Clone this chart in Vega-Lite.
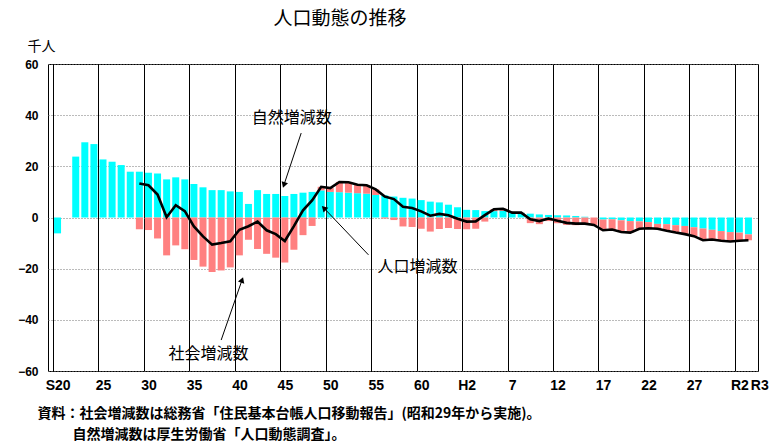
{
  "$schema": "https://vega.github.io/schema/vega-lite/v6.json",
  "width": 710,
  "height": 307,
  "autosize": {"type": "none"},
  "padding": {"left": 48, "top": 64, "right": 23, "bottom": 74},
  "background": "white",
  "config": {
    "view": {"stroke": "#000000", "strokeWidth": 1},
    "font": "Noto Sans CJK JP"
  },
  "title": {
    "text": "人口動態の推移",
    "anchor": "middle",
    "dx": -63,
    "offset": 10,
    "fontSize": 19,
    "fontWeight": "normal",
    "font": "Noto Sans CJK JP",
    "color": "#000000"
  },
  "datasets": {
    "pop": [
      {"year": 1945, "natural": -6.2, "social": null, "total": null},
      {"year": 1946, "natural": null, "social": null, "total": null},
      {"year": 1947, "natural": 23.8, "social": null, "total": null},
      {"year": 1948, "natural": 29.4, "social": null, "total": null},
      {"year": 1949, "natural": 28.7, "social": null, "total": null},
      {"year": 1950, "natural": 22.7, "social": null, "total": null},
      {"year": 1951, "natural": 21.8, "social": null, "total": null},
      {"year": 1952, "natural": 20.5, "social": null, "total": null},
      {"year": 1953, "natural": 17.9, "social": null, "total": null},
      {"year": 1954, "natural": 17.9, "social": -4.6, "total": 13.3},
      {"year": 1955, "natural": 17.5, "social": -4.9, "total": 12.6},
      {"year": 1956, "natural": 17.2, "social": -8.2, "total": 9.0},
      {"year": 1957, "natural": 14.9, "social": -14.8, "total": 0.1},
      {"year": 1958, "natural": 15.7, "social": -10.9, "total": 4.8},
      {"year": 1959, "natural": 14.9, "social": -12.4, "total": 2.5},
      {"year": 1960, "natural": 13.1, "social": -16.6, "total": -3.5},
      {"year": 1961, "natural": 11.8, "social": -19.2, "total": -7.4},
      {"year": 1962, "natural": 10.7, "social": -21.3, "total": -10.6},
      {"year": 1963, "natural": 10.7, "social": -20.7, "total": -10.0},
      {"year": 1964, "natural": 10.2, "social": -19.5, "total": -9.3},
      {"year": 1965, "natural": 10.0, "social": -14.8, "total": -4.8},
      {"year": 1966, "natural": 5.3, "social": -8.7, "total": -3.4},
      {"year": 1967, "natural": 10.7, "social": -12.3, "total": -1.6},
      {"year": 1968, "natural": 9.2, "social": -14.2, "total": -5.0},
      {"year": 1969, "natural": 9.2, "social": -15.7, "total": -6.5},
      {"year": 1970, "natural": 8.4, "social": -17.6, "total": -9.2},
      {"year": 1971, "natural": 9.2, "social": -12.6, "total": -3.4},
      {"year": 1972, "natural": 9.7, "social": -6.9, "total": 2.8},
      {"year": 1973, "natural": 10.0, "social": -3.3, "total": 6.7},
      {"year": 1974, "natural": 10.6, "social": 1.4, "total": 12.0},
      {"year": 1975, "natural": 10.0, "social": 1.5, "total": 11.5},
      {"year": 1976, "natural": 9.9, "social": 4.0, "total": 13.9},
      {"year": 1977, "natural": 9.7, "social": 4.1, "total": 13.8},
      {"year": 1978, "natural": 9.5, "social": 3.3, "total": 12.8},
      {"year": 1979, "natural": 9.3, "social": 3.3, "total": 12.6},
      {"year": 1980, "natural": 8.8, "social": 2.2, "total": 11.0},
      {"year": 1981, "natural": 8.6, "social": -0.4, "total": 8.2},
      {"year": 1982, "natural": 8.2, "social": -1.0, "total": 7.2},
      {"year": 1983, "natural": 7.7, "social": -3.5, "total": 4.2},
      {"year": 1984, "natural": 7.4, "social": -3.7, "total": 3.7},
      {"year": 1985, "natural": 6.8, "social": -4.4, "total": 2.4},
      {"year": 1986, "natural": 6.2, "social": -5.5, "total": 0.7},
      {"year": 1987, "natural": 5.9, "social": -4.5, "total": 1.4},
      {"year": 1988, "natural": 5.0, "social": -4.1, "total": 0.9},
      {"year": 1989, "natural": 4.0, "social": -4.5, "total": -0.5},
      {"year": 1990, "natural": 3.0, "social": -4.6, "total": -1.6},
      {"year": 1991, "natural": 2.9, "social": -4.4, "total": -1.5},
      {"year": 1992, "natural": 2.5, "social": -1.6, "total": 0.9},
      {"year": 1993, "natural": 2.5, "social": 0.7, "total": 3.2},
      {"year": 1994, "natural": 2.6, "social": 0.8, "total": 3.4},
      {"year": 1995, "natural": 1.9, "social": 0.0, "total": 1.9},
      {"year": 1996, "natural": 1.8, "social": 0.1, "total": 1.9},
      {"year": 1997, "natural": 1.5, "social": -2.2, "total": -0.7},
      {"year": 1998, "natural": 1.2, "social": -2.6, "total": -1.4},
      {"year": 1999, "natural": 1.0, "social": -1.4, "total": -0.4},
      {"year": 2000, "natural": 0.9, "social": -2.2, "total": -1.3},
      {"year": 2001, "natural": 0.8, "social": -2.9, "total": -2.1},
      {"year": 2002, "natural": 0.6, "social": -3.0, "total": -2.4},
      {"year": 2003, "natural": 0.3, "social": -2.7, "total": -2.4},
      {"year": 2004, "natural": 0.0, "social": -2.9, "total": -2.9},
      {"year": 2005, "natural": -0.8, "social": -4.2, "total": -5.0},
      {"year": 2006, "natural": -0.7, "social": -4.0, "total": -4.7},
      {"year": 2007, "natural": -1.1, "social": -4.6, "total": -5.7},
      {"year": 2008, "natural": -1.4, "social": -4.5, "total": -5.9},
      {"year": 2009, "natural": -1.5, "social": -2.9, "total": -4.4},
      {"year": 2010, "natural": -1.8, "social": -2.4, "total": -4.2},
      {"year": 2011, "natural": -2.5, "social": -1.9, "total": -4.4},
      {"year": 2012, "natural": -2.6, "social": -2.6, "total": -5.2},
      {"year": 2013, "natural": -3.0, "social": -2.9, "total": -5.9},
      {"year": 2014, "natural": -3.3, "social": -3.2, "total": -6.5},
      {"year": 2015, "natural": -3.8, "social": -3.5, "total": -7.3},
      {"year": 2016, "natural": -4.3, "social": -4.6, "total": -8.9},
      {"year": 2017, "natural": -4.8, "social": -3.8, "total": -8.6},
      {"year": 2018, "natural": -5.3, "social": -3.8, "total": -9.1},
      {"year": 2019, "natural": -5.7, "social": -3.7, "total": -9.4},
      {"year": 2020, "natural": -5.9, "social": -3.2, "total": -9.1},
      {"year": 2021, "natural": -6.6, "social": -2.3, "total": -8.9}
    ],
    "notes": [
      {"label": "自然増減数", "tyear": 1970.75, "tval": 39, "ayear": 1971.8, "aval": 33.0, "byear": 1969.9, "bval": 12.7},
      {"label": "人口増減数", "tyear": 1984.6, "tval": -19.5, "ayear": 1979.2, "aval": -14.6, "byear": 1974.3, "bval": 3.7},
      {"label": "社会増減数", "tyear": 1961.6, "tval": -53.3, "ayear": 1963.0, "aval": -47.9, "byear": 1965.3, "bval": -24.4}
    ]
  },
  "layer": [
    {
      "data": {"name": "pop"},
      "transform": [
        {"fold": ["natural", "social"], "as": ["k", "v"]},
        {"filter": "datum.v != null"}
      ],
      "mark": {"type": "bar", "orient": "vertical", "size": 7},
      "encoding": {
        "x": {
          "field": "year",
          "type": "quantitative",
          "scale": {"domain": [1944.5, 2021.5], "nice": false, "zero": false},
          "axis": {
            "values": [1944.5, 1949.5, 1954.5, 1959.5, 1964.5, 1969.5, 1974.5, 1979.5, 1984.5, 1989.5, 1994.5, 1999.5, 2004.5, 2009.5, 2014.5, 2019.5, 2020.7],
            "labelExpr": "datum.value < 1945 ? 'S20' : datum.value < 1989 ? '' + (datum.value + 0.5 - 1925) : datum.value < 1990 ? 'H2' : datum.value < 2019 ? '' + (datum.value + 0.5 - 1988) : datum.value < 2020 ? 'R2' : 'R3'",
            "labelOffset": 4.6,
            "labelAlign": {"condition": {"test": "datum.value > 2020", "value": "left"}, "value": "center"},
            "labelFont": "Liberation Sans Narrow, Liberation Sans",
            "labelFontSize": 14,
            "labelFontWeight": "bold",
            "labelColor": "#000000",
            "labelPadding": 7,
            "labelOverlap": false,
            "labelFlush": false,
            "labelBound": false,
            "ticks": false,
            "domain": false,
            "grid": true,
            "gridColor": "#000000",
            "gridWidth": 1,
            "gridOpacity": {"condition": {"test": "datum.value > 2020", "value": 0}, "value": 1},
            "title": ["資料：社会増減数は総務省「住民基本台帳人口移動報告」(昭和29年から実施)。", "\u200b\u3000\u3000\u2002自然増減数は厚生労働省「人口動態調査」。"],
            "titleFont": "Noto Sans CJK JP",
            "titleFontSize": 14,
            "titleFontWeight": "bold",
            "titleColor": "#000000",
            "titleAlign": "left",
            "titleAnchor": "start",
            "titleBaseline": "middle",
            "titleLineHeight": 21,
            "titleX": -11,
            "titleY": 42
          }
        },
        "y": {
          "field": "v",
          "type": "quantitative",
          "stack": "zero",
          "scale": {"domain": [-60, 60], "nice": false},
          "axis": {
            "values": [-60, -40, -20, 0, 20, 40, 60],
            "labelFont": "Liberation Sans Narrow, Liberation Sans",
            "labelFontSize": 12,
            "labelFontWeight": "bold",
            "labelColor": "#000000",
            "labelPadding": 10,
            "ticks": false,
            "domain": false,
            "grid": true,
            "gridColor": "#777777",
            "gridDash": [1, 2],
            "gridWidth": 1,
            "title": "千人",
            "titleAngle": 0,
            "titleFont": "Noto Sans CJK JP",
            "titleFontSize": 14,
            "titleFontWeight": "normal",
            "titleColor": "#000000",
            "titleAlign": "center",
            "titleBaseline": "middle",
            "titleX": -7,
            "titleY": -18
          }
        },
        "color": {
          "field": "k",
          "type": "nominal",
          "scale": {"domain": ["natural", "social"], "range": ["#00FFFF", "#FF8080"]},
          "legend": null
        },
        "order": {"field": "k", "sort": "ascending"}
      }
    },
    {
      "mark": {"type": "rule", "color": "#000000", "strokeWidth": 1.3},
      "encoding": {
        "y": {"datum": 0, "type": "quantitative"}
      }
    },
    {
      "data": {"name": "pop"},
      "mark": {"type": "line", "color": "#000000", "strokeWidth": 2.6},
      "encoding": {
        "x": {"field": "year", "type": "quantitative"},
        "y": {"field": "total", "type": "quantitative"}
      }
    },
    {
      "data": {"name": "notes"},
      "mark": {"type": "rule", "color": "#000000", "strokeWidth": 1},
      "encoding": {
        "x": {"field": "ayear", "type": "quantitative"},
        "y": {"field": "aval", "type": "quantitative"},
        "x2": {"field": "byear"},
        "y2": {"field": "bval"}
      }
    },
    {
      "data": {"name": "notes"},
      "transform": [{"filter": "datum.label == '自然増減数'"}],
      "mark": {"type": "point", "shape": "triangle-up", "filled": true, "color": "#000000", "opacity": 1, "size": 45, "angle": 199},
      "encoding": {
        "x": {"field": "byear", "type": "quantitative"},
        "y": {"field": "bval", "type": "quantitative"}
      }
    },
    {
      "data": {"name": "notes"},
      "transform": [{"filter": "datum.label == '人口増減数'"}],
      "mark": {"type": "point", "shape": "triangle-up", "filled": true, "color": "#000000", "opacity": 1, "size": 45, "angle": 316},
      "encoding": {
        "x": {"field": "byear", "type": "quantitative"},
        "y": {"field": "bval", "type": "quantitative"}
      }
    },
    {
      "data": {"name": "notes"},
      "transform": [{"filter": "datum.label == '社会増減数'"}],
      "mark": {"type": "point", "shape": "triangle-up", "filled": true, "color": "#000000", "opacity": 1, "size": 45, "angle": 20},
      "encoding": {
        "x": {"field": "byear", "type": "quantitative"},
        "y": {"field": "bval", "type": "quantitative"}
      }
    },
    {
      "data": {"name": "notes"},
      "mark": {"type": "text", "font": "Noto Sans CJK JP", "fontSize": 16, "color": "#000000", "align": "center", "baseline": "middle"},
      "encoding": {
        "x": {"field": "tyear", "type": "quantitative"},
        "y": {"field": "tval", "type": "quantitative"},
        "text": {"field": "label"}
      }
    }
  ]
}
